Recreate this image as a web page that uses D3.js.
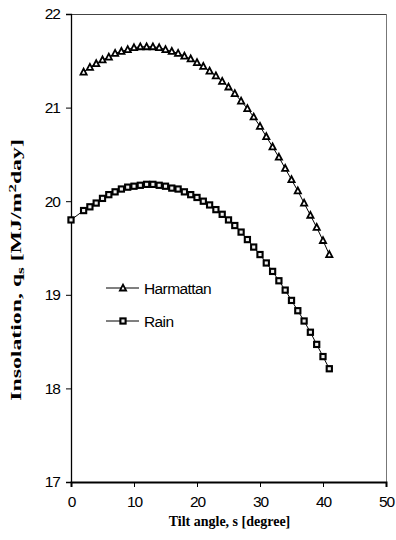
<!DOCTYPE html>
<html>
<head>
<meta charset="utf-8">
<script src="https://cdn.jsdelivr.net/npm/d3@7"></script>
<style>
  html, body { margin: 0; padding: 0; background: #fff; }
  svg { display: block; }
</style>
</head>
<body>
<svg id="chart" width="396" height="540"></svg>
<script>
// ---- data ----
const harmattanTilt = [2,3,4,5,6,7,8,9,10,11,12,13,14,15,16,17,18,19,20,21,22,23,24,25,26,27,28,29,30,31,32,33,34,35,36,37,38,39,40,41];
const harmattanValues = [21.38,21.43,21.47,21.51,21.54,21.58,21.60,21.62,21.64,21.65,21.65,21.65,21.64,21.62,21.60,21.58,21.55,21.52,21.48,21.44,21.39,21.34,21.28,21.22,21.15,21.07,20.99,20.90,20.80,20.69,20.58,20.47,20.35,20.23,20.11,19.98,19.85,19.72,19.58,19.43];
const rainTilt = [0,2,3,4,5,6,7,8,9,10,11,12,13,14,15,16,17,18,19,20,21,22,23,24,25,26,27,28,29,30,31,32,33,34,35,36,37,38,39,40,41];
const rainValues = [19.80,19.90,19.94,19.98,20.03,20.07,20.10,20.13,20.15,20.16,20.17,20.18,20.18,20.17,20.16,20.14,20.13,20.10,20.07,20.04,20.00,19.96,19.91,19.86,19.80,19.74,19.67,19.59,19.51,19.43,19.34,19.25,19.15,19.05,18.94,18.83,18.72,18.60,18.47,18.34,18.21];
const seriesNames = ["Harmattan", "Rain"];
const xTicks = [0,10,20,30,40,50];
const yTicks = [17,18,19,20,21,22];
const xTitle = "Tilt angle, s [degree]";

(function () {
// ---- layout ----
const svg = d3.select("#chart");
const pL = 71, pR = 386, pT = 14, pB = 482;
const x = d3.scaleLinear().domain([0, 50]).range([pL, pR]);
const y = d3.scaleLinear().domain([17, 22]).range([pB, pT]);
const tickFont = "'Liberation Sans', Arial, sans-serif";
const titleFont = "'Liberation Serif', 'Times New Roman', serif";

// frame (top & right)
svg.append("line").attr("x1", pL).attr("x2", pR).attr("y1", pT + 0.5).attr("y2", pT + 0.5)
  .attr("stroke", "#444").attr("stroke-width", 1);
svg.append("line").attr("x1", pR + 0.5).attr("x2", pR + 0.5).attr("y1", pT).attr("y2", pB)
  .attr("stroke", "#777").attr("stroke-width", 1);

// axes
const xAxis = d3.axisBottom(x).tickValues(xTicks).tickSize(5).tickPadding(9).tickFormat(d3.format("d"));
const yAxis = d3.axisLeft(y).tickValues(yTicks).tickSize(5).tickPadding(6).tickFormat(d3.format("d"));

const gx = svg.append("g").attr("transform", `translate(0,${pB})`).call(xAxis);
const gy = svg.append("g").attr("transform", `translate(${pL},0)`).call(yAxis);
[gx, gy].forEach(g => {
  g.select(".domain").attr("stroke", "#000");
  g.selectAll(".tick line").attr("stroke", "#000");
  g.selectAll(".tick text").attr("fill", "#000")
    .attr("font-family", tickFont).attr("font-size", 15.5).attr("letter-spacing", "-1px");
});
gx.select(".domain").attr("stroke-width", 2);
gy.select(".domain").attr("stroke-width", 1.3);

// axis titles
svg.append("text").attr("x", (pL + pR) / 2 + 1).attr("y", 526)
  .attr("text-anchor", "middle").attr("font-family", titleFont).attr("font-weight", "bold")
  .attr("font-size", 14).attr("fill", "#000").text(xTitle);

const yt = svg.append("text").attr("text-anchor", "middle")
  .attr("font-family", titleFont).attr("font-weight", "bold").attr("font-size", 14).attr("fill", "#000");
yt.append("tspan").text("Insolation, q");
yt.append("tspan").attr("font-size", 10).attr("dy", 3).text("s");
yt.append("tspan").attr("dy", -3).text(" [MJ/m");
yt.append("tspan").attr("font-size", 10).attr("dy", -5).text("2");
yt.append("tspan").attr("dy", 5).text("day]");
const ytLen = yt.node().getComputedTextLength();
const ytScale = 262 / ytLen;
yt.attr("transform", `translate(21,270) rotate(-90) scale(${ytScale},1)`);

// lines & markers
const line = d3.line().x(d => x(d[0])).y(d => y(d[1]));
const harm = harmattanTilt.map((t, i) => [t, harmattanValues[i]]);
const rain = rainTilt.map((t, i) => [t, rainValues[i]]);

svg.append("path").datum(harm).attr("d", line).attr("fill", "none").attr("stroke", "#000").attr("stroke-width", 1);
svg.append("path").datum(rain).attr("d", line).attr("fill", "none").attr("stroke", "#000").attr("stroke-width", 1);

const triPath = "M0,-3.4L3.1,2.5L-3.1,2.5Z";
function tri(g, cx, cy) {
  g.append("path").attr("d", triPath).attr("transform", `translate(${cx},${cy})`)
    .attr("fill", "#fff").attr("stroke", "#000").attr("stroke-width", 1.8);
}
function sq(g, cx, cy) {
  g.append("rect").attr("x", cx - 2.6).attr("y", cy - 2.6).attr("width", 5.2).attr("height", 5.2)
    .attr("fill", "#eee").attr("stroke", "#000").attr("stroke-width", 2.1);
}
const mg = svg.append("g");
harm.forEach(d => tri(mg, x(d[0]), y(d[1])));
rain.forEach(d => sq(mg, x(d[0]), y(d[1])));

// legend
const legendY = [288, 321];
const lg = svg.append("g");
seriesNames.forEach((name, i) => {
  const ly = legendY[i];
  lg.append("line").attr("x1", 106).attr("x2", 139).attr("y1", ly).attr("y2", ly).attr("stroke", "#000").attr("stroke-width", 1);
  if (i === 0) tri(lg, 123, ly); else sq(lg, 123, ly);
  lg.append("text").attr("x", 144).attr("y", ly).attr("dy", "0.36em")
    .attr("font-family", tickFont).attr("font-size", 15.5).attr("letter-spacing", "-0.6px")
    .attr("fill", "#000").text(name);
});
})();
</script>
</body>
</html>
